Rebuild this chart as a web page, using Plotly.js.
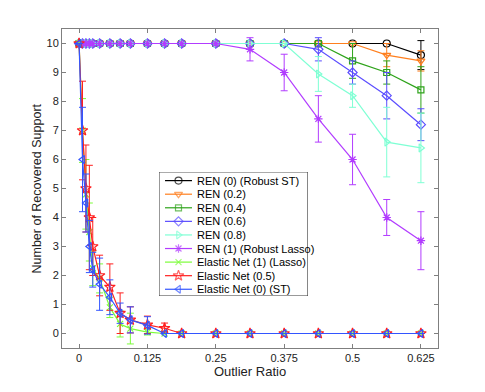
<!DOCTYPE html>
<html>
<head>
<meta charset="utf-8">
<script src="https://cdn.plot.ly/plotly-3.0.1.min.js"></script>
<style>body { margin: 0; background: #fff; }</style>
</head>
<body>
<div id="plot" style="width:485px;height:392px"></div>
<script>
// outlier ratio samples
let outlierRatio = [0, 0.00625, 0.0125, 0.01875, 0.025, 0.0375, 0.05625, 0.075, 0.09375, 0.125,
    0.15625, 0.1875, 0.25, 0.3125, 0.375, 0.4375, 0.5, 0.5625, 0.625];

let ren0 = [10, 10, 10, 10, 10, 10, 10, 10, 10, 10, 10, 10, 10, 10, 10, 10, 10, 10, 9.6];
let ren0Err = [0, 0, 0, 0, 0, 0, 0, 0, 0, 0, 0, 0, 0, 0, 0, 0, 0, 0, 0.5];
let ren02 = [10, 10, 10, 10, 10, 10, 10, 10, 10, 10, 10, 10, 10, 10, 10, 10, 10, 9.6, 9.4];
let ren02Err = [0, 0, 0, 0, 0, 0, 0, 0, 0, 0, 0, 0, 0, 0, 0, 0, 0, 0.4, 0.35];
let ren04 = [10, 10, 10, 10, 10, 10, 10, 10, 10, 10, 10, 10, 10, 10, 10, 10, 9.4, 9.0, 8.4];
let ren04Err = [0, 0, 0, 0, 0, 0, 0, 0, 0, 0, 0, 0, 0, 0, 0, 0, 0.6, 0.4, 0.8];
let ren06 = [10, 10, 10, 10, 10, 10, 10, 10, 10, 10, 10, 10, 10, 10, 10, 9.8, 9.0, 8.2, 7.2];
let ren06Err = [0, 0, 0, 0, 0, 0, 0, 0, 0, 0, 0, 0, 0, 0, 0, 0.4, 0.4, 0.8, 0.55];
let ren08 = [10, 10, 10, 10, 10, 10, 10, 10, 10, 10, 10, 10, 10, 10, 10, 8.95, 8.2, 6.6, 6.4];
let ren08Err = [0, 0, 0, 0, 0, 0, 0, 0, 0, 0, 0, 0, 0, 0, 0, 0.6, 0.4, 1.2, 1.2];
let ren1 = [10, 10, 10, 10, 10, 10, 10, 10, 10, 10, 10, 10, 10, 9.8, 9.0, 7.4, 6.0, 4.0, 3.2];
let ren1Err = [0, 0, 0, 0, 0, 0, 0, 0, 0, 0, 0, 0, 0, 0.4, 0.63, 0.8, 0.87, 0.62, 1.0];
let en1 = [10, 7.0, 4.8, 3.5, 2.25, 1.9, 0.9, 0.33, 0.17, 0.05, 0, 0, 0, 0, 0, 0, 0, 0, 0];
let en1Err = [0, 1.1, 1.2, 1.0, 0.6, 0.5, 0.35, 0.45, 0.53, 0.1, 0, 0, 0, 0, 0, 0, 0, 0, 0];
let en05 = [10, 7.0, 5.0, 4.0, 3.0, 2.0, 1.6, 0.7, 0.47, 0.3, 0.18, 0, 0, 0, 0, 0, 0, 0, 0];
let en05Err = [0, 1.7, 1.5, 1.8, 1.0, 0.7, 0.8, 0.7, 0.45, 0.3, 0.18, 0, 0, 0, 0, 0, 0, 0, 0];
let en0 = [10, 6.0, 4.5, 3.0, 2.2, 1.7, 1.25, 0.7, 0.47, 0.28, 0, 0, 0, 0, 0, 0, 0, 0, 0];
let en0Err = [0, 1.8, 1.0, 0.9, 0.6, 0.9, 0.6, 0.35, 0.45, 0.3, 0, 0, 0, 0, 0, 0, 0, 0, 0];

let seriesNames = ["REN (0) (Robust ST)", "REN (0.2)", "REN (0.4)", "REN (0.6)", "REN (0.8)",
    "REN (1) (Robust Lasso)", "Elastic Net (1) (Lasso)", "Elastic Net (0.5)", "Elastic Net (0) (ST)"];
let seriesValues = [ren0, ren02, ren04, ren06, ren08, ren1, en1, en05, en0];
let seriesErrors = [ren0Err, ren02Err, ren04Err, ren06Err, ren08Err, ren1Err, en1Err, en05Err, en0Err];

let xTickVals = [0, 0.125, 0.25, 0.375, 0.5, 0.625];
let xTickText = ["0", "0.125", "0.25", "0.375", "0.5", "0.625"];

let styles = [
    { color: "#000000", symbol: "circle-open", size: 7 },
    { color: "#FF7F1E", symbol: "triangle-down-open", size: 7 },
    { color: "#2EA31A", symbol: "square-open", size: 6 },
    { color: "#5B4DFF", symbol: "diamond-open", size: 7 },
    { color: "#7FFFD4", symbol: "triangle-right-open", size: 7 },
    { color: "#B23CFF", symbol: "asterisk-open", size: 7 },
    { color: "#7CFC3A", symbol: "x-thin-open", size: 6 },
    { color: "#FF2020", symbol: "star-open", size: 8 },
    { color: "#3355FF", symbol: "triangle-left-open", size: 7 }
];

let font = "Liberation Sans, Arial, sans-serif";
let traces = [];

seriesValues.forEach((vals, i) => {
    let st = styles[i];
    traces.push({
        x: outlierRatio, y: vals, name: seriesNames[i],
        type: "scatter", mode: "lines+markers",
        line: { color: st.color, width: 1.2 },
        marker: { symbol: st.symbol, size: st.size, color: st.color, line: { color: st.color, width: 1.2 } },
        error_y: { type: "data", array: seriesErrors[i].map(e => e > 0 ? e : null), visible: true, color: st.color, thickness: 1, width: 3.5 },
        hoverinfo: "x+y+name"
    });
});

// compact MATLAB-like legend drawn on its own small axes (units are px inside the box)
let boxW = 149, boxH = 124, rowTop = 8.7, rowStep = 13.57;
let annotations = [];
seriesNames.forEach((name, i) => {
    let st = styles[i];
    let yc = rowTop + rowStep * i;
    traces.push({
        x: [6, 19.5, 33], y: [yc, yc, yc], xaxis: "x2", yaxis: "y2",
        type: "scatter", mode: "lines+markers", showlegend: false, hoverinfo: "skip",
        line: { color: st.color, width: 1.2 },
        marker: { symbol: st.symbol, size: [0, st.size, 0], color: st.color, line: { color: st.color, width: 1.2 } }
    });
    annotations.push({
        xref: "x2", yref: "y2", x: 36, y: yc, text: name, showarrow: false,
        xanchor: "left", yanchor: "middle", font: { family: font, size: 11, color: "#000" }
    });
});

// y axis title placed like the original figure
annotations.push({
    xref: "paper", yref: "paper", x: 0, y: 0.5, xshift: -26, textangle: -90,
    text: "Number of Recovered Support", showarrow: false,
    xanchor: "center", yanchor: "middle", font: { family: font, size: 12.5, color: "#222" }
});

let axisCommon = {
    showline: true, linecolor: "#7f7f7f", linewidth: 1, mirror: "ticks",
    ticks: "inside", ticklen: 4, tickcolor: "#7f7f7f",
    showgrid: false, zeroline: false,
    tickfont: { family: font, size: 11, color: "#222" }
};

let layout = {
    width: 485, height: 392,
    margin: { l: 62, r: 47, t: 29, b: 44 },
    paper_bgcolor: "#fff", plot_bgcolor: "#fff",
    showlegend: false,
    xaxis: Object.assign({}, axisCommon, {
        range: [-0.03125, 0.65625], tickvals: xTickVals, ticktext: xTickText,
        title: { text: "Outlier Ratio", font: { family: font, size: 13, color: "#222" }, standoff: 2 }
    }),
    yaxis: Object.assign({}, axisCommon, {
        range: [-0.5, 10.5], tick0: 0, dtick: 1
    }),
    xaxis2: { domain: [0.258, 0.654], range: [0, boxW], visible: false, anchor: "y2", fixedrange: true },
    yaxis2: { domain: [0.163, 0.552], range: [boxH, 0], visible: false, anchor: "x2", fixedrange: true },
    shapes: [{
        type: "rect", xref: "x2", yref: "y2", x0: 0, x1: boxW, y0: 0, y1: boxH,
        line: { color: "#333", width: 1 }, fillcolor: "#fff", layer: "below"
    }],
    annotations: annotations
};

Plotly.newPlot("plot", traces, layout, { displayModeBar: false, staticPlot: true });
</script>
</body>
</html>
